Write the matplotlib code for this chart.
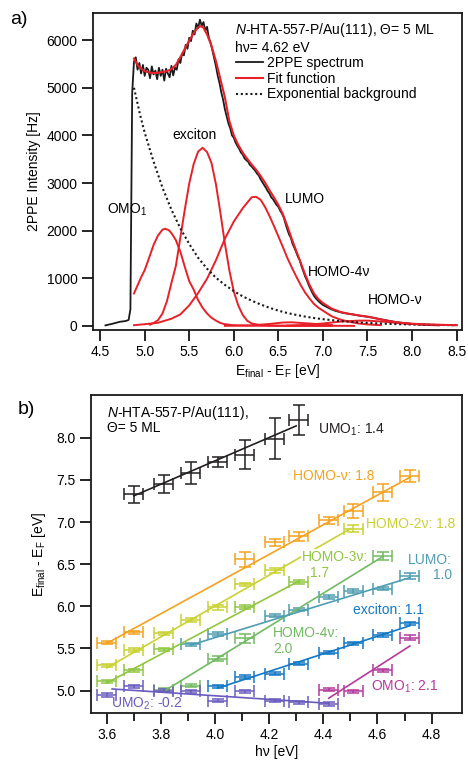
import numpy as np
import matplotlib
matplotlib.use("Agg")
import matplotlib.pyplot as plt

plt.rcParams['font.family'] = ['Liberation Sans', 'DejaVu Sans']
plt.rcParams['font.size'] = 10
plt.rcParams['mathtext.fontset'] = 'custom'
plt.rcParams['mathtext.rm'] = 'Liberation Sans'
plt.rcParams['mathtext.it'] = 'Liberation Sans:italic'

# ---- panel a: 2PPE spectrum (0.02 eV steps from 4.56 to 8.50 eV) ----
spec_e = np.round(4.56 + 0.02 * np.arange(198), 2)
spec_i = [
    10, 20, 28, 35, 45, 55, 65, 75, 85, 90,
    95, 100, 110, 125, 350, 4900, 5550, 5640, 5380, 5520,
    5300, 5480, 5250, 5420, 5380, 5200, 5450, 5280, 5360, 5180,
    5420, 5250, 5380, 5150, 5400, 5300, 5220, 5460, 5260, 5420,
    5380, 5600, 5520, 5720, 5680, 5900, 5820, 6050, 5980, 6200,
    6120, 6350, 6250, 6430, 6300, 6380, 6200, 6280, 6050, 5950,
    5780, 5600, 5450, 5250, 5100, 4900, 4750, 4550, 4400, 4250,
    4150, 4000, 3950, 3850, 3780, 3720, 3640, 3600, 3520, 3480,
    3450, 3380, 3350, 3300, 3260, 3200, 3160, 3080, 3020, 2960,
    2900, 2830, 2780, 2700, 2660, 2600, 2540, 2500, 2420, 2360,
    2280, 2150, 2030, 1920, 1850, 1720, 1640, 1550, 1450, 1380,
    1250, 1150, 1040, 960, 860, 780, 700, 630, 580, 540,
    500, 470, 440, 420, 400, 380, 360, 345, 330, 315,
    305, 295, 285, 275, 268, 260, 255, 250, 245, 240,
    232, 225, 218, 212, 205, 200, 195, 190, 185, 180,
    172, 165, 158, 150, 142, 135, 128, 120, 112, 105,
    98, 92, 86, 80, 75, 70, 65, 60, 56, 52,
    48, 45, 42, 40, 37, 35, 33, 31, 30, 28,
    27, 26, 25, 24, 23, 22, 21, 20, 19, 18,
    18, 17, 16, 16, 15, 15, 14, 14,
]

# total fit function
fit_e = [4.88, 4.92, 4.96, 5.0, 5.05, 5.1, 5.15, 5.2, 5.25, 5.3, 5.35, 5.4, 5.45,
         5.5, 5.55, 5.6, 5.63, 5.66, 5.7, 5.75, 5.8, 5.85, 5.9, 5.95, 6.0, 6.05,
         6.1, 6.15, 6.2, 6.25, 6.3, 6.35, 6.4, 6.45, 6.5, 6.55, 6.6, 6.65, 6.7,
         6.75, 6.8, 6.85, 6.9, 6.95, 7.0, 7.1, 7.2, 7.3, 7.4, 7.5, 7.6, 7.7, 7.8,
         7.9, 8.0, 8.1, 8.2, 8.3, 8.4, 8.5]
fit_i = [5615, 5480, 5400, 5350, 5320, 5310, 5315, 5330, 5350, 5390, 5480, 5640, 5820,
         5990, 6150, 6270, 6295, 6260, 6120, 5880, 5560, 5180, 4800, 4300, 4000, 3800,
         3640, 3510, 3390, 3280, 3150, 3010, 2850, 2700, 2540, 2350, 2100, 1830, 1580,
         1330, 1080, 860, 680, 560, 480, 360, 290, 250, 220, 195, 155, 115, 82,
         60, 45, 35, 28, 22, 18, 15]

# exponential background
bg_e = [4.88, 4.95, 5.0, 5.1, 5.2, 5.3, 5.4, 5.5, 5.6, 5.7, 5.8, 5.9, 6.0, 6.1, 6.2,
        6.3, 6.4, 6.5, 6.6, 6.7, 6.8, 6.9, 7.0, 7.2, 7.4, 7.6, 7.8, 8.0, 8.2, 8.5]
bg_i = [5000, 4420, 4060, 3450, 2900, 2440, 2050, 1720, 1430, 1200, 1010, 860, 730, 620, 530,
        450, 380, 320, 270, 230, 195, 165, 140, 100, 72, 52, 38, 28, 21, 14]

# fitted peaks
omo_e = [4.88, 4.92, 4.96, 5.0, 5.05, 5.1, 5.15, 5.2, 5.23, 5.27, 5.3, 5.35, 5.4, 5.45,
         5.5, 5.55, 5.6, 5.65, 5.7, 5.75, 5.8, 5.85, 5.9, 6.0, 6.2, 6.5, 7.1]
omo_i = [680, 850, 1020, 1170, 1430, 1700, 1900, 2020, 2040, 2010, 1950, 1800, 1560, 1240,
         940, 760, 540, 380, 260, 170, 110, 60, 35, 12, 3, 0, 0]

exc_e = [5.06, 5.1, 5.15, 5.2, 5.25, 5.3, 5.35, 5.4, 5.45, 5.5, 5.55, 5.6, 5.65, 5.7,
         5.75, 5.8, 5.85, 5.9, 5.95, 6.0, 6.05, 6.1, 6.15, 6.2, 6.3, 6.5, 7.35]
exc_i = [25, 60, 120, 260, 520, 900, 1260, 1850, 2440, 2990, 3400, 3660, 3740, 3650,
         3420, 2970, 2370, 1730, 1170, 720, 430, 230, 110, 50, 15, 5, 0]

lumo_e = [4.88, 5.0, 5.15, 5.3, 5.4, 5.5, 5.6, 5.7, 5.8, 5.9, 6.0, 6.1, 6.2, 6.25, 6.3,
          6.35, 6.4, 6.45, 6.5, 6.55, 6.6, 6.65, 6.7, 6.75, 6.8, 6.85, 6.9, 6.95, 7.0,
          7.1, 7.2, 7.3, 7.4, 7.5, 7.65]
lumo_i = [14, 35, 65, 150, 240, 430, 690, 990, 1380, 1830, 2190, 2470, 2700, 2710, 2650,
          2500, 2310, 2100, 1880, 1660, 1430, 1230, 1040, 860, 700, 575, 460, 380, 320,
          200, 130, 85, 50, 30, 14]

h4_e = [5.9, 6.2, 6.4, 6.55, 6.65, 6.8, 7.0, 7.1]
h4_i = [0, 10, 40, 70, 75, 55, 30, 20]

h1_e = [6.6, 6.8, 7.0, 7.2, 7.4, 7.5, 7.7, 7.9, 8.1, 8.3]
h1_i = [5, 20, 50, 90, 110, 110, 85, 50, 25, 10]

# ---- panel b: peak positions vs photon energy ----
umo1_hv = [3.70, 3.81, 3.91, 4.01, 4.11, 4.22, 4.31]
umo1_e = [7.33, 7.45, 7.58, 7.71, 7.80, 7.99, 8.21]
umo1_err = [0.10, 0.11, 0.13, 0.06, 0.17, 0.24, 0.18]

hv1_hv = [3.60, 3.70, 4.11, 4.22, 4.31, 4.42, 4.51, 4.62, 4.72]
hv1_e = [5.57, 5.69, 6.56, 6.76, 6.83, 7.02, 7.13, 7.35, 7.55]
hv1_err = [0.02, 0.02, 0.09, 0.04, 0.05, 0.04, 0.08, 0.10, 0.07]

hv2_hv = [3.60, 3.70, 3.81, 3.91, 4.01, 4.11, 4.22, 4.51]
hv2_e = [5.30, 5.48, 5.68, 5.84, 5.99, 6.26, 6.43, 6.92]
hv2_err = [0.02, 0.02, 0.02, 0.02, 0.03, 0.02, 0.03, 0.04]

hv3_hv = [3.60, 3.70, 3.81, 4.11, 4.31]
hv3_e = [5.11, 5.24, 5.49, 5.99, 6.29]
hv3_err = [0.02, 0.02, 0.02, 0.02, 0.02]

hv4_hv = [3.81, 3.91, 4.01, 4.11, 4.62]
hv4_e = [5.01, 5.06, 5.38, 5.62, 6.60]
hv4_err = [0.02, 0.02, 0.03, 0.05, 0.05]

lumo_hv = [3.91, 4.01, 4.22, 4.31, 4.42, 4.51, 4.62, 4.72]
lumo_pos = [5.55, 5.67, 5.89, 5.96, 6.11, 6.18, 6.21, 6.36]
lumo_err = [0.02, 0.02, 0.02, 0.02, 0.02, 0.02, 0.02, 0.04]

exc_hv = [4.01, 4.11, 4.22, 4.31, 4.42, 4.51, 4.62, 4.72]
exc_pos = [5.05, 5.16, 5.20, 5.32, 5.45, 5.56, 5.66, 5.80]
exc_err = [0.02] * 8

umo2_hv = [3.60, 3.70, 3.81, 3.91, 4.01, 4.11, 4.22, 4.31, 4.42]
umo2_e = [4.95, 5.05, 5.00, 4.99, 4.88, 4.99, 4.88, 4.86, 4.84]
umo2_err = [0.02] * 9

omo1_hv = [4.42, 4.51, 4.62, 4.72]
omo1_e = [5.01, 4.99, 5.24, 5.63]
omo1_err = [0.02, 0.02, 0.02, 0.03]

# linear fits: (hv start, hv end), (E start, E end)
fits = {
    'umo1': ([3.70, 4.30], [7.31, 8.14]),
    'hv1': ([3.60, 4.72], [5.56, 7.53]),
    'hv2': ([3.60, 4.50], [5.27, 6.92]),
    'hv3': ([3.60, 4.31], [5.09, 6.30]),
    'hv4': ([3.82, 4.62], [5.01, 6.59]),
    'lumo': ([3.91, 4.72], [5.54, 6.34]),
    'exc': ([4.01, 4.72], [5.03, 5.77]),
    'umo2': ([3.62, 4.42], [5.02, 4.85]),
    'omo1': ([4.42, 4.72], [4.91, 5.53]),
}

fig = plt.figure(figsize=(4.68, 7.66), dpi=100)
axa = fig.add_axes([0.1987, 0.569, 0.7883, 0.414])
axb = fig.add_axes([0.1944, 0.0692, 0.7926, 0.4151])

red = '#e8202a'
for e, i in [(omo_e, omo_i), (exc_e, exc_i), (lumo_e, lumo_i), (h4_e, h4_i), (h1_e, h1_i)]:
    axa.plot(e, i, color=red, lw=1.4, zorder=2)
l1, = axa.plot(spec_e, spec_i, color='#1a1a1a', lw=1.3, zorder=3)
l2, = axa.plot(fit_e, fit_i, color=red, lw=1.5, zorder=4)
l3, = axa.plot(bg_e, bg_i, color='#1a1a1a', lw=1.5, ls=(0, (1, 1.3)), zorder=2)

axa.set_xlim(4.42, 8.56)
axa.set_ylim(-90, 6570)
axa.set_xticks([4.5, 5.0, 5.5, 6.0, 6.5, 7.0, 7.5, 8.0, 8.5])
axa.set_yticks([0, 1000, 2000, 3000, 4000, 5000, 6000])
axa.set_xlabel(r'E$_\mathregular{final}$ - E$_\mathregular{F}$ [eV]', labelpad=2)
axa.set_ylabel('2PPE Intensity [Hz]', labelpad=4)

axa.text(0.385, 0.946, r'$\it{N}$-HTA-557-P/Au(111), Θ= 5 ML', transform=axa.transAxes, va='center')
axa.text(0.385, 0.890, 'hν= 4.62 eV', transform=axa.transAxes, va='center')
axa.legend([l1, l2, l3], ['2PPE spectrum', 'Fit function', 'Exponential background'],
           loc='upper left', bbox_to_anchor=(0.388, 0.864), frameon=False,
           borderpad=0, borderaxespad=0, handlelength=1.9, handletextpad=0.35,
           labelspacing=0.12)

axa.text(4.58, 2443, r'OMO$_\mathregular{1}$', va='center')
axa.text(5.314, 4004, 'exciton', va='center')
axa.text(6.57, 2674, 'LUMO', va='center')
axa.text(6.83, 1134, 'HOMO-4ν', va='center')
axa.text(7.50, 539, 'HOMO-ν', va='center')

# panel b
series = [
    (umo1_hv, umo1_e, umo1_err, 'umo1', '#231f20'),
    (hv1_hv, hv1_e, hv1_err, 'hv1', '#f5a21e'),
    (hv2_hv, hv2_e, hv2_err, 'hv2', '#c9d232'),
    (hv3_hv, hv3_e, hv3_err, 'hv3', '#90c641'),
    (hv4_hv, hv4_e, hv4_err, 'hv4', '#72ba62'),
    (lumo_hv, lumo_pos, lumo_err, 'lumo', '#4f9db2'),
    (exc_hv, exc_pos, exc_err, 'exc', '#1478c4'),
    (umo2_hv, umo2_e, umo2_err, 'umo2', '#6a5cbf'),
    (omo1_hv, omo1_e, omo1_err, 'omo1', '#b43a9c'),
]
for hv, e, err, key, c in series:
    axb.errorbar(hv, e, yerr=err, xerr=0.035, fmt='none', ecolor=c, elinewidth=1.1,
                 capsize=4.5, capthick=1.1, zorder=2)
    fx, fy = fits[key]
    axb.plot(fx, fy, color=c, lw=1.2, zorder=3)

axb.set_xlim(3.542, 4.912)
axb.set_ylim(4.735, 8.506)
axb.set_xticks([3.6, 3.8, 4.0, 4.2, 4.4, 4.6, 4.8])
axb.set_xticks(np.round(np.arange(3.6, 4.85, 0.1), 1), minor=True)
axb.set_yticks([5.0, 5.5, 6.0, 6.5, 7.0, 7.5, 8.0])
axb.xaxis.set_major_formatter(matplotlib.ticker.FormatStrFormatter('%.1f'))
axb.yaxis.set_major_formatter(matplotlib.ticker.FormatStrFormatter('%.1f'))
axb.set_xlabel('hν [eV]', labelpad=2)
axb.set_ylabel(r'E$_\mathregular{final}$ - E$_\mathregular{F}$ [eV]', labelpad=6)

axb.text(3.60, 8.29, r'$\it{N}$-HTA-557-P/Au(111),', va='center')
axb.text(3.60, 8.11, 'Θ= 5 ML', va='center')
axb.text(4.38, 8.09, r'UMO$_\mathregular{1}$: 1.4', color='#231f20', va='center')
axb.text(4.287, 7.54, 'HOMO-ν: 1.8', color='#f5a21e', va='center')
axb.text(4.556, 6.976, 'HOMO-2ν: 1.8', color='#c9d232', va='center')
axb.text(4.32, 6.59, 'HOMO-3ν:', color='#90c641', va='center',
         bbox=dict(facecolor='white', edgecolor='none', pad=0.5), zorder=4)
axb.text(4.35, 6.40, '1.7', color='#90c641', va='center')
axb.text(4.874, 6.55, 'LUMO:', color='#4f9db2', va='center', ha='right')
axb.text(4.874, 6.37, '1.0', color='#4f9db2', va='center', ha='right')
axb.text(4.51, 5.96, 'exciton: 1.1', color='#1478c4', va='center')
axb.text(4.215, 5.68, 'HOMO-4ν:', color='#72ba62', va='center')
axb.text(4.215, 5.49, '2.0', color='#72ba62', va='center')
axb.text(4.578, 5.05, r'OMO$_\mathregular{1}$: 2.1', color='#b43a9c', va='center')
axb.text(3.616, 4.84, r'UMO$_\mathregular{2}$: -0.2', color='#6a5cbf', va='center')

for ax in (axa, axb):
    for s in ax.spines.values():
        s.set_linewidth(1.3)
        s.set_color('#1a1a1a')
    ax.tick_params(direction='out', length=8, width=1.2, pad=3)
    ax.tick_params(which='minor', direction='out', length=6, width=1.2)

fig.text(0.022, 0.974, 'a)', fontsize=14, va='center')
fig.text(0.038, 0.465, 'b)', fontsize=14, va='center')

fig.savefig('out.png', dpi=100)
